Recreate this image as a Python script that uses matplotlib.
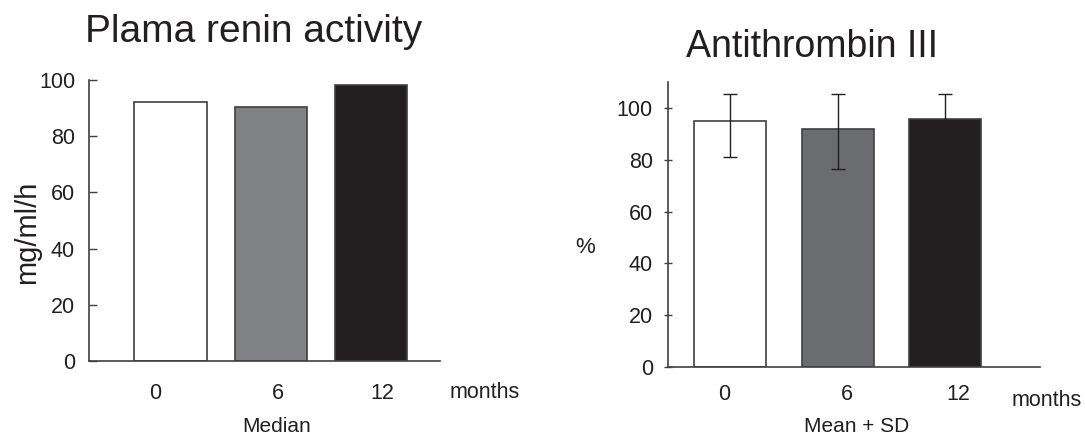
"""
Plasma renin activity and antithrombin III at 0, 6 and 12 months.
"""

import matplotlib
matplotlib.use('Agg')
import matplotlib.pyplot as plt

plt.rcParams['font.family'] = ['Liberation Sans', 'DejaVu Sans']

# Data
months = ['0', '6', '12']
renin_median = [92.2, 90.5, 98.2]
at3_mean = [95.0, 91.7, 95.9]
at3_sd_up = [10.5, 13.8, 9.6]
at3_sd_down = [13.9, 15.3, 9.6]

bar_colors_left = ['#ffffff', '#808184', '#231f20']
bar_colors_right = ['#ffffff', '#6b6c70', '#231f20']
ink = '#231f20'
edge = '#404040'

fig = plt.figure(figsize=(10.85, 4.37), dpi=100)

# ---- left panel: plasma renin activity ----
ax1 = fig.add_axes([0.0820, 0.1739, 0.3235, 0.643])
pos = range(len(months))
ax1.bar(pos, renin_median, width=0.72, color=bar_colors_left,
        edgecolor=edge, linewidth=1.2)
ax1.set_ylim(0, 100)
ax1.set_xlim(-0.813, 2.688)
ax1.set_yticks(range(0, 101, 20))
ax1.set_xticks([-0.155, 1.07, 2.11])
ax1.set_xticklabels(months)
ax1.tick_params(axis='y', direction='in', length=6, width=1, colors=edge,
                labelsize=15.5, labelcolor=ink, pad=10)
ax1.tick_params(axis='x', length=0, labelsize=15.5, labelcolor=ink, pad=16)
for s in ['top', 'right']:
    ax1.spines[s].set_visible(False)
for s in ['left', 'bottom']:
    ax1.spines[s].set_color(edge)
    ax1.spines[s].set_linewidth(1.2)

# ---- right panel: antithrombin III ----
ax2 = fig.add_axes([0.6157, 0.1602, 0.3429, 0.6522])
ax2.bar(pos, at3_mean, width=0.67, color=bar_colors_right,
        edgecolor=edge, linewidth=1.2, zorder=2)
ax2.errorbar(pos, at3_mean, yerr=[at3_sd_down, at3_sd_up], fmt='none',
             ecolor=ink, elinewidth=1, capsize=5, capthick=1, zorder=3)
ax2.set_ylim(0, 110)
ax2.set_xlim(-0.577, 2.884)
ax2.set_yticks(range(0, 101, 20))
ax2.set_xticks([-0.05, 1.09, 2.12])
ax2.set_xticklabels(months)
ax2.tick_params(axis='y', direction='inout', length=6, width=1, colors=edge,
                labelsize=15.5, labelcolor=ink, pad=8)
ax2.tick_params(axis='x', length=0, labelsize=15.5, labelcolor=ink, pad=12)
for s in ['top', 'right']:
    ax2.spines[s].set_visible(False)
for s in ['left', 'bottom']:
    ax2.spines[s].set_color(edge)
    ax2.spines[s].set_linewidth(1.2)

# ---- titles and labels in figure pixels ----
W, H = 1085, 437


def ftext(x, y, s, **kw):
    fig.text(x / W, 1 - y / H, s, color=ink, **kw)


ftext(254, 42, 'Plama renin activity', fontsize=28, ha='center', va='baseline')
ftext(812, 57, 'Antithrombin III', fontsize=27, ha='center', va='baseline')
ftext(27, 232, 'mg/ml/h', fontsize=21, rotation=90, ha='center', va='center')
ftext(585, 248, '%', fontsize=16, ha='center', va='center')
ftext(450, 393, 'months', fontsize=15.5, ha='left', va='center')
ftext(1012, 400, 'months', fontsize=15.5, ha='left', va='center')
ftext(277, 427, 'Median', fontsize=15, ha='center', va='center')
ftext(857, 427, 'Mean + SD', fontsize=15, ha='center', va='center')

fig.savefig('out.png', dpi=100)
plt.close(fig)
